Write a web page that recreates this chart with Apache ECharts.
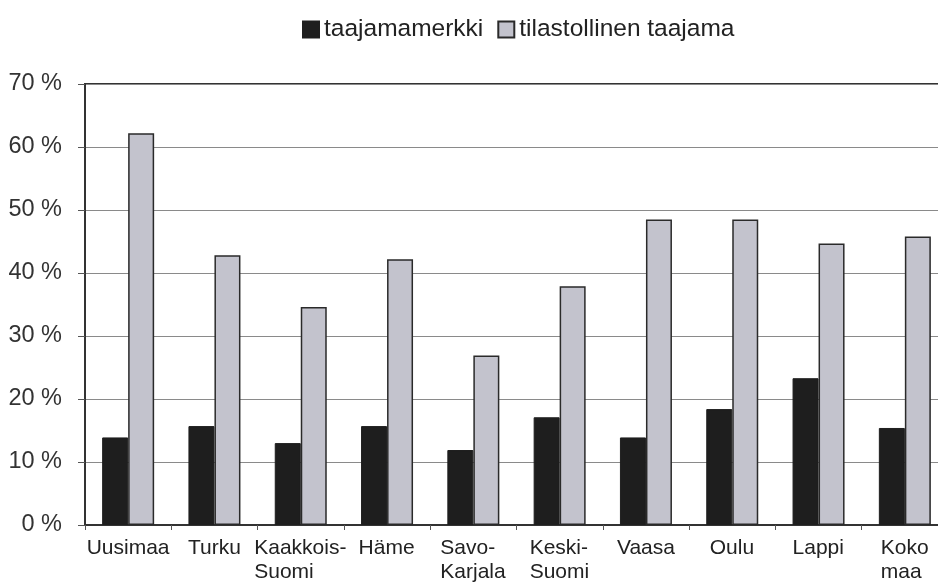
<!DOCTYPE html>
<html><head><meta charset="utf-8">
<script src="https://cdn.jsdelivr.net/npm/echarts@6/dist/echarts.min.js"></script>
<style>html,body{margin:0;padding:0;background:#fff}#c{width:938px;height:582px}</style>
</head><body><div id="c"></div>
<script>
const categories = ['Uusimaa','Turku','Kaakkois-\nSuomi','Häme','Savo-\nKarjala','Keski-\nSuomi','Vaasa','Oulu','Lappi','Koko\nmaa'];
const seriesNames = ['taajamamerkki','tilastollinen taajama'];
const taajamamerkki = [13.9,15.7,13.0,15.7,11.9,17.1,13.9,18.4,23.3,15.4];
const tilastollinen = [62.2,42.8,34.6,42.2,26.9,37.9,48.5,48.5,44.7,45.8];
const yMin = 0, yMax = 70, yStep = 10;

const FONT = '"Liberation Sans", Arial, sans-serif';
const xFont = 21, xLine = 24;
const ctx = document.createElement('canvas').getContext('2d');
ctx.font = xFont + 'px "Liberation Sans"';
const rich = {};
categories.forEach((c, i) => {
  const lines = c.split('\n');
  const w = Math.max(...lines.map(l => ctx.measureText(l).width));
  rich['c' + i] = {width: Math.ceil(w), align: 'left', fontSize: xFont, lineHeight: xLine, fontFamily: FONT, color: '#222'};
});

const chart = echarts.init(document.getElementById('c'), null, {renderer: 'canvas'});
chart.setOption({
  animation: false,
  backgroundColor: '#fff',
  legend: {
    data: seriesNames,
    left: 297, top: 12,
    icon: 'rect', itemWidth: 16, itemHeight: 16, itemGap: 14,
    textStyle: {fontSize: 24.5, fontFamily: FONT, color: '#222'}
  },
  grid: {left: 85, top: 84, width: 863, bottom: 57, outerBoundsMode: 'none', containLabel: false,
         show: true, borderColor: '#333', borderWidth: 2, backgroundColor: 'transparent'},
  xAxis: {
    type: 'category', data: categories,
    axisLine: {lineStyle: {color: '#333', width: 2}},
    axisTick: {show: true, length: 5, lineStyle: {color: '#555'}},
    axisLabel: {
      interval: 0, margin: 11, fontSize: xFont, lineHeight: xLine, fontFamily: FONT, color: '#222',
      hideOverlap: false,
      formatter: (v, i) => v.split('\n').map(l => '{c' + i + '|' + l + '}').join('\n'),
      rich: rich
    }
  },
  yAxis: {
    type: 'value', min: yMin, max: yMax, interval: yStep,
    axisLine: {show: true, lineStyle: {color: '#333', width: 2}},
    axisTick: {show: true, length: 7, lineStyle: {color: '#555'}},
    splitLine: {lineStyle: {color: '#8a8a8a', width: 1}},
    axisLabel: {fontSize: 23.5, fontFamily: FONT, color: '#333', margin: 23, formatter: v => v + ' %'}
  },
  series: [
    {name: seriesNames[0], type: 'bar', data: taajamamerkki, barWidth: 26, barGap: '0%',
     itemStyle: {color: '#1e1e1e', borderColor: '#1e1e1e', borderWidth: 1}},
    {name: seriesNames[1], type: 'bar', data: tilastollinen, barWidth: 26, barGap: '0%',
     itemStyle: {color: '#c3c3cd', borderColor: '#2a2a2a', borderWidth: 1.5}}
  ]
});
</script></body></html>
